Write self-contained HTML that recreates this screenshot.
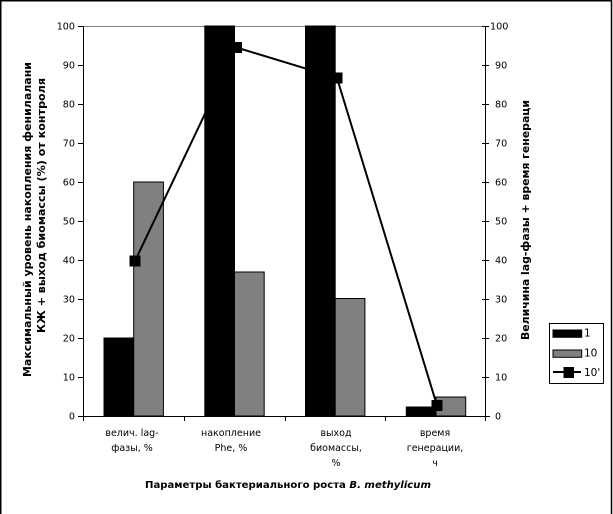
<!DOCTYPE html>
<html><head><meta charset="utf-8">
<style>
html,body{margin:0;padding:0;background:#fff;}
svg{display:block;}
text{font-family:"DejaVu Sans","Liberation Sans",sans-serif;}
</style></head>
<body>
<svg width="613" height="514" viewBox="0 0 613 514" xmlns="http://www.w3.org/2000/svg">
<rect x="0" y="0" width="613" height="514" fill="#fff"/>
<!-- outer border (top, left, right) -->
<path d="M0.75,514 V0.75 H611.5 V514" fill="none" stroke="#000" stroke-width="1.5"/>

<!-- top gridline -->
<line x1="83" y1="26.5" x2="486" y2="26.5" stroke="#808080" stroke-width="1"/>

<!-- bars -->
<g stroke="#000" stroke-width="1">
  <rect x="104" y="338" width="29.7" height="78" fill="#000"/>
  <rect x="133.7" y="182" width="29.7" height="234" fill="#808080"/>
  <rect x="204.8" y="26" width="29.7" height="390" fill="#000"/>
  <rect x="234.5" y="272" width="29.7" height="144" fill="#808080"/>
  <rect x="305.5" y="26" width="29.7" height="390" fill="#000"/>
  <rect x="335.2" y="298.5" width="29.7" height="117.5" fill="#808080"/>
  <rect x="406.3" y="407" width="29.7" height="9" fill="#000"/>
  <rect x="436" y="397" width="29.7" height="19" fill="#808080"/>
</g>

<!-- line series -->
<polyline points="135,261 236.5,47.5 337,78 437,405.5" fill="none" stroke="#000" stroke-width="2"/>
<g fill="#000">
  <rect x="129.5" y="255.5" width="11" height="11"/>
  <rect x="231" y="42" width="11" height="11"/>
  <rect x="331.5" y="72.5" width="11" height="11"/>
  <rect x="431.5" y="400" width="11" height="11"/>
</g>

<!-- axes -->
<g stroke="#000" stroke-width="1">
  <line x1="83.5" y1="26" x2="83.5" y2="416.5"/>
  <line x1="485.5" y1="26" x2="485.5" y2="416.5"/>
  <line x1="78" y1="416.5" x2="490" y2="416.5"/>
  <!-- left ticks -->
  <line x1="78" y1="26.5" x2="83" y2="26.5"/>
  <line x1="78" y1="65.5" x2="83" y2="65.5"/>
  <line x1="78" y1="104.5" x2="83" y2="104.5"/>
  <line x1="78" y1="143.5" x2="83" y2="143.5"/>
  <line x1="78" y1="182.5" x2="83" y2="182.5"/>
  <line x1="78" y1="221.5" x2="83" y2="221.5"/>
  <line x1="78" y1="260.5" x2="83" y2="260.5"/>
  <line x1="78" y1="299.5" x2="83" y2="299.5"/>
  <line x1="78" y1="338.5" x2="83" y2="338.5"/>
  <line x1="78" y1="377.5" x2="83" y2="377.5"/>
  <!-- right ticks -->
  <line x1="482" y1="26.5" x2="489" y2="26.5"/>
  <line x1="482" y1="65.5" x2="489" y2="65.5"/>
  <line x1="482" y1="104.5" x2="489" y2="104.5"/>
  <line x1="482" y1="143.5" x2="489" y2="143.5"/>
  <line x1="482" y1="182.5" x2="489" y2="182.5"/>
  <line x1="482" y1="221.5" x2="489" y2="221.5"/>
  <line x1="482" y1="260.5" x2="489" y2="260.5"/>
  <line x1="482" y1="299.5" x2="489" y2="299.5"/>
  <line x1="482" y1="338.5" x2="489" y2="338.5"/>
  <line x1="482" y1="377.5" x2="489" y2="377.5"/>
  <!-- category ticks -->
  <line x1="83.5" y1="416" x2="83.5" y2="421"/>
  <line x1="184.5" y1="416" x2="184.5" y2="421"/>
  <line x1="285.5" y1="416" x2="285.5" y2="421"/>
  <line x1="385.5" y1="416" x2="385.5" y2="421"/>
  <line x1="485.5" y1="416" x2="485.5" y2="421"/>
</g>

<!-- left tick labels -->
<g font-size="9.6" fill="#000" text-anchor="end">
  <text x="75" y="29.5">100</text>
  <text x="75" y="68.5">90</text>
  <text x="75" y="107.5">80</text>
  <text x="75" y="146.5">70</text>
  <text x="75" y="185.5">60</text>
  <text x="75" y="224.5">50</text>
  <text x="75" y="263.5">40</text>
  <text x="75" y="302.5">30</text>
  <text x="75" y="341.5">20</text>
  <text x="75" y="380.5">10</text>
  <text x="75" y="419.5">0</text>
</g>
<!-- right tick labels -->
<g font-size="9.6" fill="#000">
  <text x="490" y="29.5">100</text>
  <text x="495" y="68.5">90</text>
  <text x="495" y="107.5">80</text>
  <text x="495" y="146.5">70</text>
  <text x="495" y="185.5">60</text>
  <text x="495" y="224.5">50</text>
  <text x="495" y="263.5">40</text>
  <text x="495" y="302.5">30</text>
  <text x="495" y="341.5">20</text>
  <text x="495" y="380.5">10</text>
  <text x="495" y="419.5">0</text>
</g>

<!-- category labels -->
<g font-size="9.5" fill="#000" text-anchor="middle">
  <text x="132" y="436">велич. lag-</text>
  <text x="132" y="451">фазы, %</text>
  <text x="231" y="436">накопление</text>
  <text x="231" y="451">Phe, %</text>
  <text x="336" y="436">выход</text>
  <text x="336" y="451">биомассы,</text>
  <text x="336" y="466">%</text>
  <text x="435" y="436">время</text>
  <text x="435" y="451">генерации,</text>
  <text x="435" y="466">ч</text>
</g>

<!-- x axis title -->
<text x="145" y="488" font-size="9.6" font-weight="bold" fill="#000" textLength="286" lengthAdjust="spacingAndGlyphs">Параметры бактериального роста <tspan font-style="italic">B. methylicum</tspan></text>

<!-- left axis title -->
<text transform="translate(31,377) rotate(-90)" font-size="11" font-weight="bold" fill="#000" textLength="315" lengthAdjust="spacingAndGlyphs">Максимальный уровень накопления фенилалани</text>
<text transform="translate(45,333) rotate(-90)" font-size="11" font-weight="bold" fill="#000" textLength="255" lengthAdjust="spacingAndGlyphs">КЖ + выход биомассы (%) от контроля</text>

<!-- right axis title -->
<text transform="translate(529,340) rotate(-90)" font-size="11" font-weight="bold" fill="#000" textLength="240" lengthAdjust="spacingAndGlyphs">Величина lag-фазы + время генераци</text>

<!-- legend -->
<rect x="549.5" y="323.5" width="54" height="60" fill="#fff" stroke="#000" stroke-width="1"/>
<rect x="553" y="330" width="28.7" height="7.3" fill="#000" stroke="#000" stroke-width="1"/>
<rect x="553" y="350" width="28.7" height="7.3" fill="#808080" stroke="#000" stroke-width="1"/>
<line x1="553" y1="372" x2="581" y2="372" stroke="#000" stroke-width="2"/>
<rect x="563.5" y="367" width="10.5" height="11" fill="#000"/>
<g font-size="10.5" fill="#000">
  <text x="584" y="336.5">1</text>
  <text x="584" y="356.5">10</text>
  <text x="584" y="376">10'</text>
</g>
</svg>
</body></html>
